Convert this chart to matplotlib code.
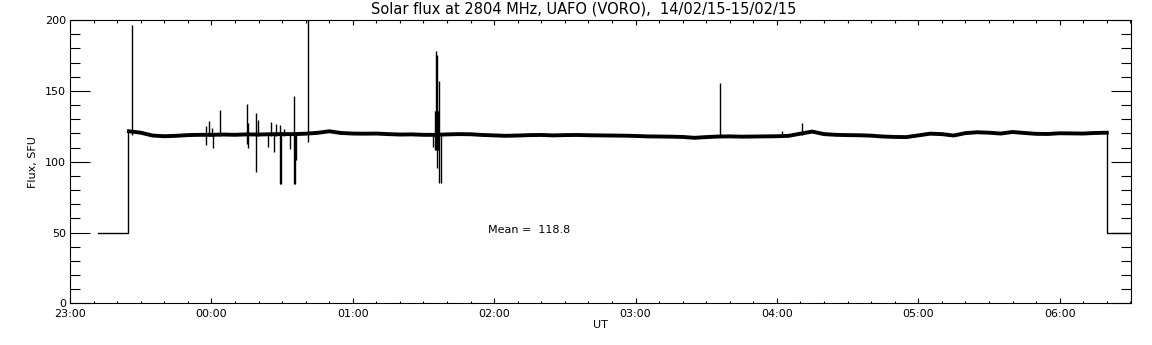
import numpy as np
import matplotlib
matplotlib.use('Agg')
import matplotlib.pyplot as plt
import matplotlib.dates as mdates

# minutes after 23:00 UT (14/02/15)
base_min = [25, 30, 35, 40, 45, 50, 55, 60, 65, 70, 75, 80, 85, 90, 95, 100,
            105, 110, 115, 120, 125, 130, 135, 140, 145, 150, 155, 160, 165,
            170, 175, 180, 185, 190, 195, 200, 205, 210, 215, 220, 225, 230,
            235, 240, 245, 250, 255, 260, 265, 270, 275, 280, 285, 290, 295,
            300, 305, 310, 315, 320, 325, 330, 335, 340, 345, 350, 355, 360,
            365, 370, 375, 380, 385, 390, 395, 400, 405, 410, 415, 420, 425,
            430, 435, 440]
base_flux = [121.5, 120.5, 118.5, 118.0, 118.3, 118.8, 119.0, 119.0, 119.2,
             119.0, 119.3, 119.2, 119.4, 119.5, 119.5, 119.8, 120.4, 121.5,
             120.3, 119.9, 119.8, 119.9, 119.5, 119.2, 119.3, 119.0, 119.0,
             119.3, 119.5, 119.4, 118.9, 118.6, 118.3, 118.5, 118.8, 118.9,
             118.6, 118.8, 118.9, 118.7, 118.6, 118.5, 118.4, 118.2, 117.9,
             117.8, 117.7, 117.5, 116.9, 117.4, 117.8, 117.9, 117.7, 117.8,
             117.9, 118.0, 118.3, 119.8, 121.3, 119.5, 119.0, 118.8, 118.7,
             118.4, 117.8, 117.5, 117.4, 118.6, 119.8, 119.5, 118.5, 120.2,
             120.8, 120.5, 119.9, 121.0, 120.3, 119.7, 119.6, 120.1, 120.0,
             119.9, 120.3, 120.5]

# calibration level before and after the observation
pre_min = [12, 24.6, 24.6]
pre_flux = [50, 50, 121.5]
post_min = [440, 440, 452]
post_flux = [120.5, 50, 50]

# bursts / interference spikes: time, low, high
spike_min = [26.2, 57.7, 59.1, 60.1, 60.8, 63.5, 75.1, 75.7, 79.1, 79.6, 84.0,
             85.4, 86.7, 87.5, 88.9, 89.4, 90.9, 93.5, 95.0, 95.5, 95.9, 101.1,
             154.1, 155.0, 155.3, 155.6, 155.9, 156.2, 156.7, 157.5, 275.9,
             302.0, 310.7]
spike_lo = [119, 112, 118, 118, 109.8, 118, 112.8, 109.8, 92.8, 118, 110.5,
            118, 107, 118, 84.6, 84.6, 118, 109.3, 84.6, 84.6, 101, 114,
            110.5, 108, 108, 108, 95.6, 108, 85, 85, 118, 118, 119]
spike_hi = [196.5, 125, 128.6, 123.7, 119, 136.4, 140.6, 127, 134.3, 129.3,
            119, 127.9, 119, 126.5, 125.8, 119, 123, 119, 146.3, 119, 119, 205,
            119, 136, 178, 136, 175, 136, 157, 119, 155.5, 122, 127.4]

t0 = np.datetime64('2015-02-14T23:00:00')


def to_time(m):
    return t0 + (np.asarray(m, dtype=float) * 60).astype('timedelta64[s]')


plt.rcParams['font.family'] = 'DejaVu Sans'
fig = plt.figure(figsize=(11.52, 3.45), dpi=100)
ax = fig.add_axes([0.0608, 0.1203, 0.9214, 0.8217])

ax.plot(to_time(pre_min), pre_flux, color='black', lw=1)
ax.plot(to_time(post_min), post_flux, color='black', lw=1)
ax.plot(to_time(base_min), base_flux, color='black', lw=2.8,
        solid_joinstyle='miter')
ax.vlines(to_time(spike_min), spike_lo, spike_hi, color='black', lw=1)

ax.set_xlim(t0, to_time([450.5])[0])
ax.set_ylim(0, 200)

ax.xaxis.set_major_locator(mdates.HourLocator())
ax.xaxis.set_minor_locator(mdates.MinuteLocator(byminute=range(10, 60, 10)))
ax.xaxis.set_major_formatter(mdates.DateFormatter('%H:%M'))
ax.set_yticks(range(0, 201, 50))
ax.set_yticks(range(0, 201, 10), minor=True)

ax.tick_params(axis='x', which='major', direction='in', length=3.6, width=0.8,
               top=True, bottom=True, labelsize=8, pad=4)
ax.tick_params(axis='x', which='minor', direction='in', length=1.8, width=0.8,
               top=True, bottom=True)
ax.tick_params(axis='y', which='major', direction='in', length=14.4, width=0.8,
               left=True, right=True, labelsize=8, pad=3)
ax.tick_params(axis='y', which='minor', direction='in', length=7.2, width=0.8,
               left=True, right=True)
for s in ax.spines.values():
    s.set_linewidth(0.8)

ax.set_xlabel('UT', fontsize=8, labelpad=1)
ax.set_ylabel('Flux, SFU', fontsize=8, labelpad=5)
fig.text(584 / 1152, 1 - 9 / 345, 'Solar flux at 2804 MHz, UAFO (VORO),  14/02/15-15/02/15',
         ha='center', va='center', fontsize=10.5)
ax.text(0.3935, 0.259, 'Mean =  118.8', transform=ax.transAxes,
        ha='left', va='center', fontsize=8)

fig.savefig('out.png', dpi=100)
